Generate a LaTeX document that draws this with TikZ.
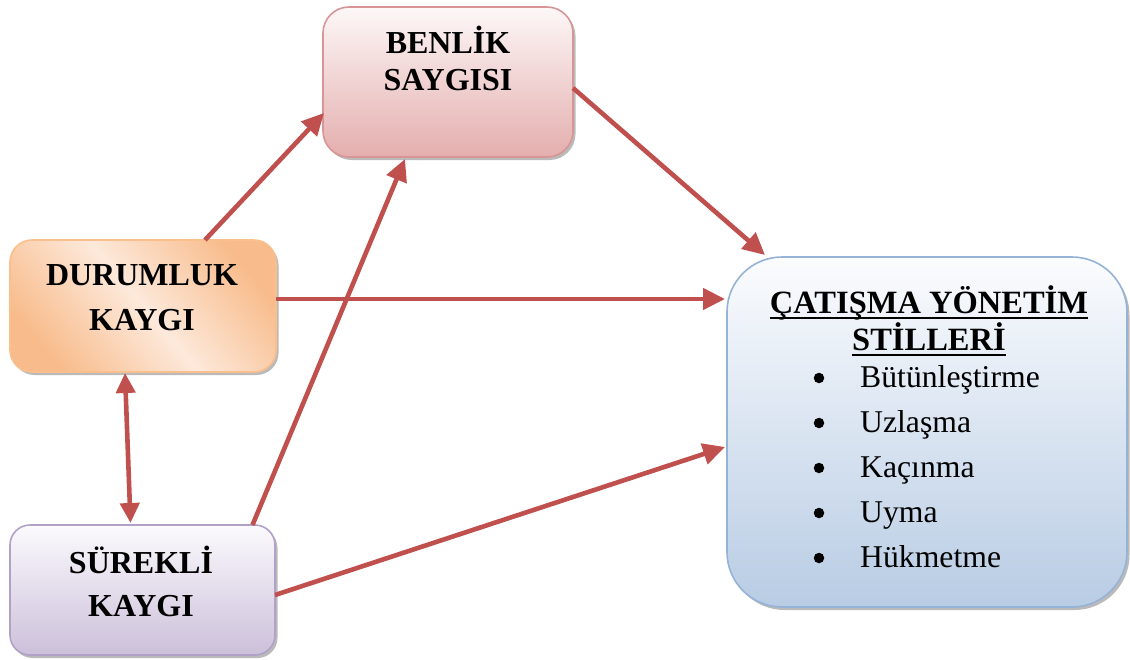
\documentclass[tikz,border=0pt]{standalone}
\usepackage{fontspec}
\setmainfont{Liberation Serif}
\usetikzlibrary{arrows.meta,shadows,calc}

\definecolor{arrowred}{HTML}{C0504D}
\definecolor{pinkline}{HTML}{D99594}
\definecolor{pinklow}{HTML}{E4AEAE}
\definecolor{pinktop}{HTML}{FDF7F7}
\definecolor{orangeline}{HTML}{F9C08E}
\definecolor{orangedeep}{HTML}{F8BC8C}
\definecolor{orangelight}{HTML}{FDE9DB}
\definecolor{lilacline}{HTML}{B2A1C7}
\definecolor{lilaclow}{HTML}{CCC0DA}
\definecolor{lilactop}{HTML}{FBFAFD}
\definecolor{blueline}{HTML}{95B3D7}
\definecolor{bluelow}{HTML}{B8CCE4}
\definecolor{bluetop}{HTML}{FBFCFE}

% underline set a fixed distance below the baseline
\newcommand{\baseul}[1]{\setbox0\hbox{#1}\rlap{\rule[-6pt]{\wd0}{2.2pt}}\box0}

\tikzset{
  boxshape/.style={rectangle, inner sep=0pt, outer sep=0pt, line width=1.6pt,
    drop shadow={shadow xshift=2.5pt, shadow yshift=-3pt, fill=black!45, opacity=0.6}},
  boxtitle/.style={anchor=base, inner sep=0pt, font=\fontsize{32}{37}\selectfont\bfseries},
  listtitle/.style={anchor=base, inner sep=0pt, font=\fontsize{32.5}{37}\selectfont\bfseries},
  listitem/.style={anchor=base west, inner sep=0pt, font=\fontsize{31.7}{36}\selectfont},
  listdot/.style={circle, fill=black, inner sep=0pt, minimum size=10.5pt},
  link/.style={draw=arrowred, line width=4.6pt, -{Triangle[length=22pt,width=21pt]}},
  twoway/.style={draw=arrowred, line width=4.6pt, {Triangle[length=20pt,width=19pt]}-{Triangle[length=20pt,width=19pt]}}
}

\begin{document}
\begin{tikzpicture}[x=1pt,y=-1pt]
\useasboundingbox (0,0) rectangle (1130,659);

% boxes
\node[boxshape, rounded corners=26pt, draw=pinkline, top color=pinktop, bottom color=pinklow,
  minimum width=250pt, minimum height=150pt] (benlik) at (448,82) {};
\node[boxshape, rounded corners=22pt, draw=orangeline, left color=orangedeep,
  right color=orangedeep, middle color=orangelight, shading angle=130,
  minimum width=266pt, minimum height=132pt] (durumluk) at (143,306) {};
\node[boxshape, rounded corners=20pt, draw=lilacline, top color=lilactop, bottom color=lilaclow,
  minimum width=265pt, minimum height=130pt] (surekli) at (142.5,590) {};
\node[boxshape, rounded corners=55pt, draw=blueline, top color=bluetop, bottom color=bluelow,
  minimum width=400pt, minimum height=350pt] (catisma) at (927,432) {};

% box texts
\node[boxtitle] (benlikA) at (448,53) {BENLİK};
\node[boxtitle] (benlikB) at (448,90) {SAYGISI};
\node[boxtitle] (durumlukA) at (142,285) {DURUMLUK};
\node[boxtitle] (durumlukB) at (142,330) {KAYGI};
\node[boxtitle] (surekliA) at (141,573) {SÜREKLİ};
\node[boxtitle] (surekliB) at (141,616) {KAYGI};

\node[listtitle] (titleA) at (929,313) {\baseul{ÇATIŞMA YÖNETİM}};
\node[listtitle] (titleB) at (929,350) {\baseul{STİLLERİ}};

\foreach \txt/\yy/\nm in {Bütünleştirme/387/a, Uzlaşma/432/b, Kaçınma/477/c, Uyma/522/d, Hükmetme/567/e}{
  \node[listdot] (dot\nm) at (819,\yy-9) {};
  \node[listitem] (item\nm) at (860,\yy) {\txt};
}

% connectors
\draw[link] ([xshift=62pt]durumluk.north) -- ([xshift=1pt,yshift=-31pt]benlik.west);
\draw[link] ([xshift=110pt]surekli.north) -- ([xshift=-43pt,yshift=-2pt]benlik.south);
\draw[link] ([yshift=-6pt]benlik.east) -- ([xshift=-162pt,yshift=2pt]catisma.north);
\draw[link] ([yshift=7pt]durumluk.east) -- ([xshift=-2pt,yshift=133pt]catisma.west);
\draw[link] ([yshift=-5pt]surekli.east) -- ([xshift=-2pt,yshift=-15pt]catisma.west);
\draw[twoway] ([xshift=-18pt,yshift=-1pt]durumluk.south) -- ([xshift=-12pt,yshift=2pt]surekli.north);
\end{tikzpicture}
\end{document}
